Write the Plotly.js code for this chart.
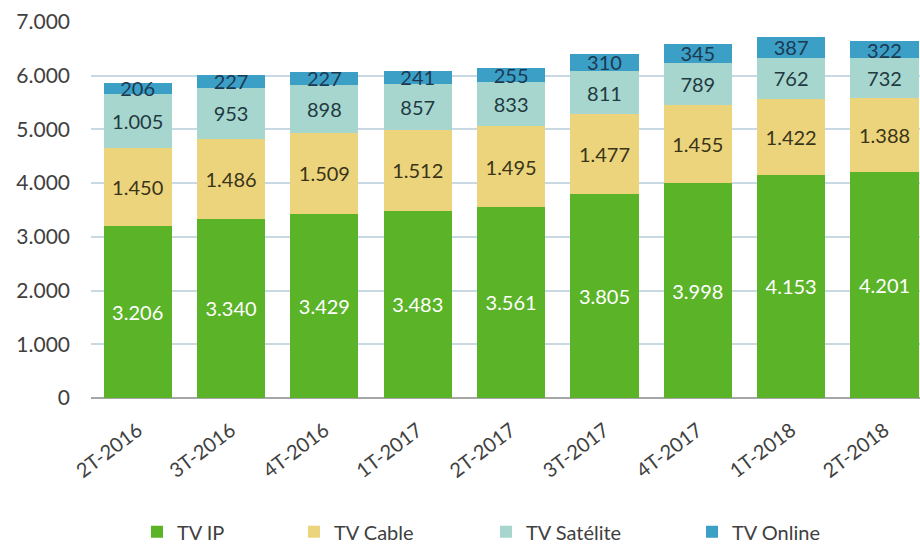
<!DOCTYPE html>
<html><head><meta charset="utf-8">
<script src="https://cdn.plot.ly/plotly-3.0.1.min.js"></script>
<style>html,body{margin:0;padding:0;background:#fff}#chart{width:920px;height:544px}</style>
</head><body><div id="chart"></div>
<script>
const categories = ["2T-2016","3T-2016","4T-2016","1T-2017","2T-2017","3T-2017","4T-2017","1T-2018","2T-2018"];
const tvIP = [3206,3340,3429,3483,3561,3805,3998,4153,4201];
const tvCable = [1450,1486,1509,1512,1495,1477,1455,1422,1388];
const tvSatelite = [1005,953,898,857,833,811,789,762,732];
const tvOnline = [206,227,227,241,255,310,345,387,322];
const seriesNames = ["TV IP","TV Cable","TV Satélite","TV Online"];
const yTicks = [0,1000,2000,3000,4000,5000,6000,7000];

const colors = ["#5bb328","#ecd47c","#a7d6cf","#3c9fc6"];
const textColors = ["#ffffff","#3a3418","#1f3a40","#1b3a52"];
const series = [tvIP, tvCable, tvSatelite, tvOnline];
const legendIds = ['legend','legend2','legend3','legend4'];
const legendX = [0.0555, 0.2449, 0.4765, 0.7250];

const traces = series.map((vals,i)=>({
  type:'bar', name:seriesNames[i], x:categories, y:vals,
  legend:legendIds[i],
  marker:{color:colors[i], line:{width:0}},
  texttemplate:'%{y:,}', textposition:'inside', insidetextanchor:'middle',
  constraintext:'none',
  textfont:{family:'Lato, sans-serif', size:20, color:textColors[i]},
  hoverinfo:'skip'
}));

const layout = {
  width:920, height:544, barmode:'stack', bargap:0.27,
  separators:',.',
  margin:{l:91,r:0,t:22,b:146,autoexpand:false},
  paper_bgcolor:'#fff', plot_bgcolor:'#fff',
  font:{family:'Lato, sans-serif', size:15, color:'#404040'},
  showlegend:true,
  xaxis:{range:[-0.5,8.38], tickangle:-37, tickfont:{size:20,color:'#404040'}, showgrid:false, ticks:'', showline:false, ticklabelstandoff:16, automargin:false},
  yaxis:{range:[0,7000], tickvals:yTicks, tickformat:',', tickfont:{size:21,color:'#404040'}, automargin:false,
    gridcolor:'#c9d9e3', gridwidth:2, zeroline:true, zerolinecolor:'#a6a6a6', zerolinewidth:2, ticks:'', ticklabelstandoff:20}
};
legendIds.forEach((id,i)=>{
  layout[id] = {orientation:'h', x:legendX[i], xanchor:'left', y:-0.356, yanchor:'middle',
    font:{size:20,color:'#404040'}, bgcolor:'rgba(0,0,0,0)'};
});
Plotly.newPlot('chart', traces, layout, {displayModeBar:false, staticPlot:true});
</script></body></html>
